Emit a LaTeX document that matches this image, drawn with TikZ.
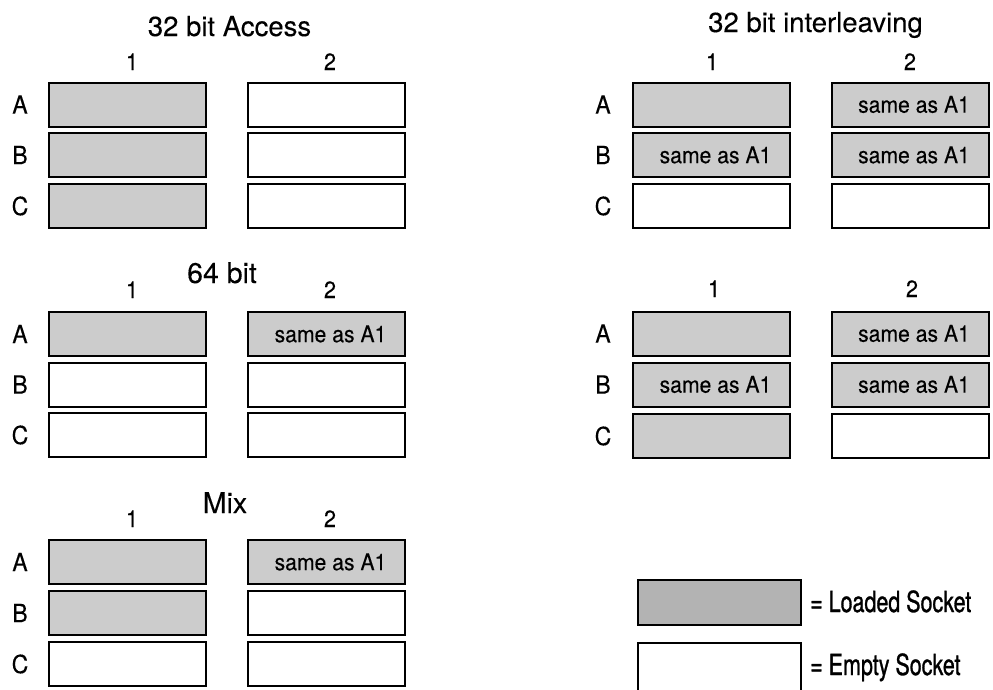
\documentclass[tikz,border=0pt]{standalone}
\usepackage{fontspec}
\setmainfont[FakeBold=0.2]{TeX Gyre Heros}
\newfontfamily\narrowfont[FakeStretch=0.92,FakeBold=0.2]{TeX Gyre Heros}
\newfontfamily\condfont[FakeStretch=0.74,FakeBold=1]{TeX Gyre Heros}
\definecolor{loadgray}{HTML}{CCCCCC}
\definecolor{leggray}{HTML}{B3B3B3}
\begin{document}
\begin{tikzpicture}[x=1pt,y=-1pt,
  sock/.style={draw=black,line width=2pt,minimum width=157pt,minimum height=44pt,inner sep=0pt,
    font=\narrowfont\fontsize{23}{25}\selectfont},
  loaded/.style={sock,fill=loadgray},
  empty/.style={sock,fill=white},
  rowlab/.style={inner sep=0pt,font=\narrowfont\fontsize{25}{27}\selectfont},
  collab/.style={inner sep=0pt,anchor=base,font=\narrowfont\fontsize{23.5}{25}\selectfont},
  ttl/.style={inner sep=0pt,anchor=base,font=\fontsize{27.5}{30}\selectfont},
  bigttl/.style={inner sep=0pt,anchor=base,font=\fontsize{28.5}{30}\selectfont},
  legtxt/.style={inner sep=0pt,anchor=base west,font=\condfont\fontsize{29}{31}\selectfont}]
\useasboundingbox (0,0) rectangle (993,689);
\newcommand{\sama}{\hspace*{8pt}same as A1}
% ---------- 32 bit Access ----------
\node[ttl] (t1) at (229.5,36) {32 bit Access};
\node[collab] (p1c1) at (132,70) {1};
\node[collab] (p1c2) at (330,70) {2};
\node[rowlab] (p1rA) at (20,104.5) {A};
\node[rowlab] (p1rB) at (20,155) {B};
\node[rowlab] (p1rC) at (20,206) {C};
\node[loaded] (p1A1) at (127.5,104.5) {};
\node[loaded] (p1B1) at (127.5,155) {};
\node[loaded] (p1C1) at (127.5,206) {};
\node[empty] (p1A2) at (326.5,104.5) {};
\node[empty] (p1B2) at (326.5,155) {};
\node[empty] (p1C2) at (326.5,206) {};
% ---------- 64 bit ----------
\node[bigttl] (t2) at (222,283) {64 bit};
\node[collab] (p2c1) at (132,298) {1};
\node[collab] (p2c2) at (330,298) {2};
\node[rowlab] (p2rA) at (20,334) {A};
\node[rowlab] (p2rB) at (20,384.5) {B};
\node[rowlab] (p2rC) at (20,435) {C};
\node[loaded] (p2A1) at (127.5,334) {};
\node[empty] (p2B1) at (127.5,384.5) {};
\node[empty] (p2C1) at (127.5,435) {};
\node[loaded] (p2A2) at (326.5,334) {\sama};
\node[empty] (p2B2) at (326.5,384.5) {};
\node[empty] (p2C2) at (326.5,435) {};
% ---------- Mix ----------
\node[bigttl] (t3) at (225,513) {Mix};
\node[collab] (p3c1) at (132,527) {1};
\node[collab] (p3c2) at (330,527) {2};
\node[rowlab] (p3rA) at (20,562) {A};
\node[rowlab] (p3rB) at (20,613) {B};
\node[rowlab] (p3rC) at (20,664) {C};
\node[loaded] (p3A1) at (127.5,562) {};
\node[loaded] (p3B1) at (127.5,613) {};
\node[empty] (p3C1) at (127.5,664) {};
\node[loaded] (p3A2) at (326.5,562) {\sama};
\node[empty] (p3B2) at (326.5,613) {};
\node[empty] (p3C2) at (326.5,664) {};
% ---------- 32 bit interleaving ----------
\node[ttl] (t4) at (815.5,32) {32 bit interleaving};
\node[collab] (p4c1) at (712,70) {1};
\node[collab] (p4c2) at (910,70) {2};
\node[rowlab] (p4rA) at (603,104.5) {A};
\node[rowlab] (p4rB) at (603,155) {B};
\node[rowlab] (p4rC) at (603,206) {C};
\node[loaded] (p4A1) at (711.5,104.5) {};
\node[loaded] (p4B1) at (711.5,155) {\sama};
\node[empty] (p4C1) at (711.5,206) {};
\node[loaded] (p4A2) at (910,104.5) {\sama};
\node[loaded] (p4B2) at (910,155) {\sama};
\node[empty] (p4C2) at (910,206) {};
% ---------- lower right ----------
\node[collab] (p5c1) at (714,297) {1};
\node[collab] (p5c2) at (912,297) {2};
\node[rowlab] (p5rA) at (603,333.5) {A};
\node[rowlab] (p5rB) at (603,384.5) {B};
\node[rowlab] (p5rC) at (603,436) {C};
\node[loaded] (p5A1) at (711.5,333.5) {};
\node[loaded] (p5B1) at (711.5,384.5) {\sama};
\node[loaded] (p5C1) at (711.5,436) {};
\node[loaded] (p5A2) at (910,333.5) {\sama};
\node[loaded] (p5B2) at (910,384.5) {\sama};
\node[empty] (p5C2) at (910,436) {};
% ---------- legend ----------
\node[sock,fill=leggray,minimum width=163pt,minimum height=45pt] (legL) at (719,602) {};
\node[sock,fill=white,minimum width=163pt,minimum height=48pt] (legE) at (719,667) {};
\node[legtxt] (legLt) at (810,612) {= Loaded Socket};
\node[legtxt] (legEt) at (810,675) {= Empty Socket};
\end{tikzpicture}
\end{document}
